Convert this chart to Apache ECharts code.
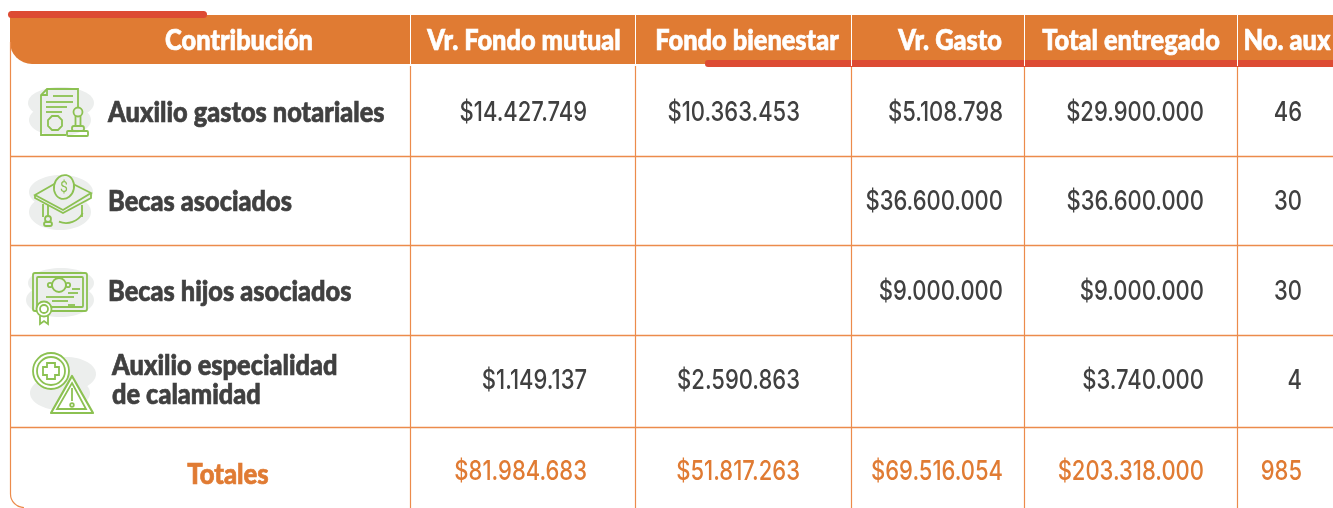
<!DOCTYPE html>
<html>
<head>
<meta charset="utf-8">
<title>Contribución</title>
<script src="https://cdn.jsdelivr.net/npm/echarts@6/dist/echarts.min.js"></script>
<style>
html,body{margin:0;padding:0;background:#fff}
#main{width:1333px;height:508px}
</style>
</head>
<body>
<div id="main"></div>
<script>
// datos de la tabla
const headers = ['Contribución', 'Vr. Fondo mutual', 'Fondo bienestar', 'Vr. Gasto', 'Total entregado', 'No. aux'];
const categories = [['Auxilio gastos notariales'], ['Becas asociados'], ['Becas hijos asociados'], ['Auxilio especialidad', 'de calamidad']];
const fondoMutual = [14427749, null, null, 1149137];
const fondoBienestar = [10363453, null, null, 2590863];
const gasto = [5108798, 36600000, 9000000, null];
const totalEntregado = [29900000, 36600000, 9000000, 3740000];
const numAux = [46, 30, 30, 4];
const totalesLabel = 'Totales';
const totales = [81984683, 51817263, 69516054, 203318000, 985];

// layout
const colX = [10, 410, 635, 851, 1024, 1237];
const rowY = [156, 245, 335, 427];
const headCenter = [239, 524, 747, 950, 1131, 1287];
const numRight = [587, 800, 1003, 1204];
const auxRight = 1302;
const rowMid = [113, 202, 292, 381, 472];
const ORANGE = '#e07b33', LINE = '#ec8b4b', RED = '#dd4b33', DARK = '#404040', GREEN = '#8cc152', BLOB = '#eceeed';

const money = v => v == null ? '' : '$' + String(v).replace(/\B(?=(\d{3})+$)/g, '.');

// filas de texto para la serie custom: [x, y, texto, tipo]
const cells = [];
headers.forEach((h, i) => cells.push([headCenter[i], 41, h, 'head']));
categories.forEach((c, r) => {
    if (c.length == 1) cells.push([108, rowMid[r], c[0], 'label']);
    else c.forEach((t, k) => cells.push([112, 366 + k * 29, t, 'label']));
    [fondoMutual, fondoBienestar, gasto, totalEntregado].forEach((s, i) => {
        if (s[r] != null) cells.push([numRight[i], rowMid[r], money(s[r]), 'num']);
    });
    cells.push([auxRight, rowMid[r], String(numAux[r]), 'num']);
});
cells.push([228, 475, totalesLabel, 'totalLabel']);
totales.forEach((v, i) => {
    if (i < 4) cells.push([numRight[i], rowMid[4], money(v), 'total']);
    else cells.push([auxRight, rowMid[4], String(v), 'total']);
});

const textStyles = {
    head: {font: '900 29px Lato', fill: '#fff', textAlign: 'center', sx: 0.875, bold: 0.7},
    label: {font: '900 29px Lato', fill: DARK, textAlign: 'left', sx: 0.875, bold: 0.7},
    num: {font: '500 27.5px Inter', fill: DARK, textAlign: 'right', sx: 0.80, bold: 0},
    total: {font: '500 27.5px Inter', fill: ORANGE, textAlign: 'right', sx: 0.80, bold: 0},
    totalLabel: {font: '900 29px Lato', fill: ORANGE, textAlign: 'center', sx: 0.885, bold: 0.7}
};

function renderCell(params, api) {
    const c = cells[params.dataIndex];
    const s = textStyles[c[3]];
    return {
        type: 'text',
        x: c[0],
        y: c[1],
        scaleX: s.sx,
        silent: true,
        style: {text: c[2], font: s.font, fill: s.fill, stroke: s.bold ? s.fill : null, lineWidth: s.bold, textAlign: s.textAlign, textVerticalAlign: 'middle'}
    };
}

// helpers de iconos
const stroke = {stroke: GREEN, lineWidth: 1.8, fill: 'none'};
const blob = (cx, cy, rx, ry) => ({type: 'ellipse', shape: {cx, cy, rx, ry}, style: {fill: BLOB}});
const ln = (x1, y1, x2, y2) => ({type: 'line', shape: {x1, y1, x2, y2}, style: stroke});
const poly = (points) => ({type: 'polyline', shape: {points}, style: stroke});
const circ = (cx, cy, r) => ({type: 'circle', shape: {cx, cy, r}, style: stroke});
const box = (x, y, width, height, r) => ({type: 'rect', shape: {x, y, width, height, r: r || 0}, style: stroke});

const iconNotarial = [
    blob(61, 103, 33, 16), blob(60, 120, 31, 16),
    poly([[66, 135], [41, 135], [41, 95], [47, 89], [78, 89], [78, 107]]),
    poly([[41, 95], [47, 95], [47, 89]]),
    ln(53, 96, 73, 96), ln(46, 102, 73, 102), ln(46, 107, 67, 107), ln(46, 112, 62, 112),
    {type: 'polygon', shape: {points: [[52, 116], [58, 116], [62, 120], [62, 126], [58, 130], [52, 130], [48, 126], [48, 120]]}, style: stroke},
    circ(78, 112, 4.5), ln(75.5, 116, 75.5, 126), ln(80.5, 116, 80.5, 126),
    box(72, 126, 12, 5, 2), box(67, 131, 21, 5, 1)
];
const iconBeca = [
    blob(61, 192, 32, 17), blob(60, 212, 31, 18),
    {type: 'polygon', shape: {points: [[35, 195], [63, 179], [91, 193], [63, 210]]}, style: stroke},
    poly([[35, 195], [35, 198], [63, 213], [91, 198], [91, 193]]),
    {type: 'ellipse', shape: {cx: 64, cy: 187, rx: 10, ry: 12}, rotation: -0.2, originX: 64, originY: 187, style: {stroke: GREEN, lineWidth: 1.8, fill: '#eceeed'}},
    {type: 'text', style: {text: '$', x: 64, y: 188, font: '14px Roboto', fill: GREEN, textAlign: 'center', textVerticalAlign: 'middle'}},
    ln(43, 204, 43, 217), ln(82, 205, 82, 217),
    {type: 'arc', shape: {cx: 66, cy: 204, r: 19, startAngle: 0.5, endAngle: 1.95}, style: stroke},
    ln(48, 205, 48, 216), circ(48, 219, 3), box(44, 222, 8, 4, 2)
];
const iconHijos = [
    blob(61, 283, 33, 15), blob(60, 300, 34, 17),
    box(33, 273, 54, 38, 2), box(37, 277, 46, 30, 1),
    circ(59, 285, 7), circ(50, 285, 2.2), circ(68, 285, 2.2),
    ln(72, 289, 80, 289), ln(68, 293, 78, 293), ln(46, 297, 74, 297), ln(52, 301, 68, 301), ln(68, 305, 75, 305),
    {type: 'circle', shape: {cx: 44, cy: 309, r: 7.5}, style: {stroke: GREEN, lineWidth: 1.8, fill: '#fff'}},
    circ(44, 309, 4),
    poly([[40, 316], [40, 324], [44, 321], [48, 324], [48, 316]])
];
const iconCalamidad = [
    blob(66, 374, 30, 17), blob(60, 393, 30, 17),
    {type: 'circle', shape: {cx: 51, cy: 371, r: 18}, style: {stroke: GREEN, lineWidth: 1.8, fill: '#fff'}},
    circ(51, 371, 14),
    {type: 'polygon', shape: {points: [[47, 363], [55, 363], [55, 367], [59, 367], [59, 375], [55, 375], [55, 379], [47, 379], [47, 375], [43, 375], [43, 367], [47, 367]]}, style: stroke},
    {type: 'polygon', shape: {points: [[72, 376], [93, 413], [51, 413]]}, style: {stroke: GREEN, lineWidth: 2.2, fill: '#fff', lineJoin: 'round'}},
    {type: 'polygon', shape: {points: [[72, 383], [86, 409], [57, 409]]}, style: stroke},
    ln(72, 388, 72, 401), circ(72, 405, 1.8)
];

function buildFrame() {
    const els = [];
    // cabecera
    els.push({type: 'rect', z: 1, shape: {x: 10, y: 15, width: 1335, height: 49, r: [0, 13, 0, 22]}, style: {fill: ORANGE}});
    els.push({type: 'rect', z: 1, shape: {x: 1230, y: 15, width: 103, height: 49, r: [0, 13, 0, 0]}, style: {fill: ORANGE}});
    // lineas verticales
    colX.slice(1).forEach(x => {
        els.push({type: 'line', z: 3, shape: {x1: x + .5, y1: 15, x2: x + .5, y2: 66}, style: {stroke: '#fff', lineWidth: 1}});
        els.push({type: 'line', z: 2, shape: {x1: x + .5, y1: 66, x2: x + .5, y2: 508}, style: {stroke: LINE, lineWidth: 1.2}});
    });
    rowY.forEach(y => els.push({type: 'line', z: 2, shape: {x1: 10, y1: y + .5, x2: 1333, y2: y + .5}, style: {stroke: LINE, lineWidth: 1.3}}));
    // borde izquierdo redondeado abajo
    els.push({type: 'line', z: 2, shape: {x1: 10.5, y1: 42, x2: 10.5, y2: 494}, style: {stroke: LINE, lineWidth: 1.2}});
    els.push({type: 'arc', z: 2, shape: {cx: 24, cy: 494, r: 13.5, startAngle: Math.PI / 2, endAngle: Math.PI, clockwise: true}, style: {stroke: LINE, lineWidth: 1.2, fill: 'none'}});
    // barras rojas
    els.push({type: 'rect', z: 2, shape: {x: 8, y: 11, width: 199, height: 7, r: 3.5}, style: {fill: RED}});
    els.push({type: 'rect', z: 2, shape: {x: 705, y: 60, width: 640, height: 7, r: 3}, style: {fill: RED}});
    els.push({type: 'group', z: 2, children: [].concat(iconNotarial, iconBeca, iconHijos, iconCalamidad)});
    return els;
}

const chart = echarts.init(document.getElementById('main'), null, {renderer: 'canvas'});
chart.setOption({
    animation: false,
    backgroundColor: '#fff',
    graphic: {elements: buildFrame()},
    series: [{
        type: 'custom',
        coordinateSystem: 'none',
        silent: true,
        z: 10,
        renderItem: renderCell,
        data: cells.map((c, i) => i)
    }]
});
</script>
</body>
</html>
